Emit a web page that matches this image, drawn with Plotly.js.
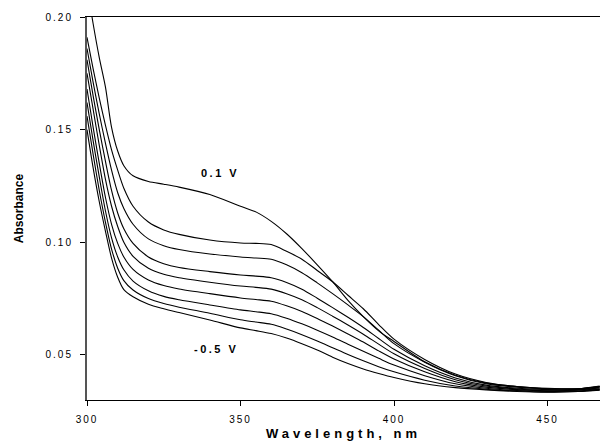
<!DOCTYPE html>
<html>
<head>
<meta charset="utf-8">
<script src="https://cdn.plot.ly/plotly-3.0.1.min.js"></script>
<style>
  html, body { margin: 0; padding: 0; background: #fff; }
  #chart { width: 600px; height: 441px; }
  .xtick text, .ytick text { letter-spacing: 2px !important; }
  .xtitle { letter-spacing: 4px !important; }
  .annotation-text { letter-spacing: 2.5px !important; }
</style>
</head>
<body>
<div id="chart"></div>
<script>
// Wavelength grid (nm)
const wavelength = [300, 302, 304, 306, 308, 310, 312, 315, 320, 325, 330, 340, 350, 355, 360, 365, 370, 375, 380, 385, 390, 395, 400, 410, 420, 430, 440, 450, 460, 467];

// Absorbance spectra, from 0.1 V (top) down to -0.5 V (bottom)
const abs_p010 = [0.214, 0.197, 0.182, 0.1690, 0.1510, 0.1405, 0.1340, 0.1295, 0.1270, 0.1258, 0.1245, 0.1212, 0.1160, 0.1135, 0.1093, 0.1038, 0.0972, 0.0900, 0.0825, 0.0742, 0.0670, 0.0607, 0.0560, 0.0470, 0.0410, 0.0375, 0.0360, 0.0350, 0.0350, 0.0360];
const abs_k1 = [0.191, 0.177, 0.164, 0.152, 0.141, 0.132, 0.124, 0.1160, 0.1090, 0.1055, 0.1035, 0.1010, 0.0997, 0.0995, 0.0990, 0.0960, 0.0925, 0.0875, 0.0825, 0.0765, 0.0705, 0.0635, 0.0570, 0.0480, 0.0415, 0.0378, 0.0360, 0.0352, 0.0350, 0.0360];
const abs_k2 = [0.186, 0.171, 0.157, 0.144, 0.132, 0.122, 0.115, 0.1080, 0.1015, 0.0985, 0.0968, 0.0948, 0.0935, 0.0930, 0.0925, 0.0900, 0.0865, 0.0820, 0.0772, 0.0722, 0.0670, 0.0610, 0.0550, 0.0468, 0.0408, 0.0372, 0.0357, 0.0350, 0.0350, 0.0362];
const abs_k3 = [0.181, 0.165, 0.150, 0.136, 0.123, 0.113, 0.106, 0.0995, 0.0935, 0.0905, 0.0888, 0.0870, 0.0855, 0.0850, 0.0843, 0.0822, 0.0792, 0.0752, 0.0710, 0.0667, 0.0622, 0.0573, 0.0525, 0.0452, 0.0398, 0.0366, 0.0352, 0.0346, 0.0347, 0.0357];
const abs_k4 = [0.175, 0.159, 0.143, 0.128, 0.116, 0.107, 0.1000, 0.0938, 0.0885, 0.0858, 0.0843, 0.0823, 0.0806, 0.0800, 0.0792, 0.0772, 0.0745, 0.0710, 0.0672, 0.0633, 0.0592, 0.0548, 0.0505, 0.0440, 0.0390, 0.0362, 0.0349, 0.0344, 0.0345, 0.0354];
const abs_k5 = [0.168, 0.151, 0.135, 0.120, 0.108, 0.0995, 0.0935, 0.0880, 0.0833, 0.0808, 0.0793, 0.0772, 0.0753, 0.0746, 0.0738, 0.0718, 0.0693, 0.0662, 0.0628, 0.0593, 0.0557, 0.0518, 0.0482, 0.0425, 0.0381, 0.0357, 0.0346, 0.0341, 0.0343, 0.0350];
const abs_k6 = [0.162, 0.145, 0.129, 0.114, 0.102, 0.0935, 0.0878, 0.0828, 0.0785, 0.0760, 0.0745, 0.0722, 0.0700, 0.0692, 0.0683, 0.0663, 0.0638, 0.0610, 0.0580, 0.0548, 0.0516, 0.0485, 0.0455, 0.0408, 0.0372, 0.0352, 0.0342, 0.0338, 0.0340, 0.0347];
const abs_k7 = [0.156, 0.139, 0.123, 0.109, 0.097, 0.0885, 0.0830, 0.0788, 0.0750, 0.0728, 0.0712, 0.0685, 0.0656, 0.0646, 0.0636, 0.0615, 0.0590, 0.0562, 0.0532, 0.0502, 0.0474, 0.0448, 0.0425, 0.0388, 0.0362, 0.0348, 0.0340, 0.0336, 0.0338, 0.0345];
const abs_m050 = [0.150, 0.133, 0.118, 0.105, 0.093, 0.0845, 0.0790, 0.0758, 0.0725, 0.0705, 0.0688, 0.0655, 0.0620, 0.0608, 0.0595, 0.0575, 0.0550, 0.0522, 0.0490, 0.0462, 0.0438, 0.0418, 0.0400, 0.0372, 0.0355, 0.0345, 0.0338, 0.0335, 0.0338, 0.0343];

const seriesList = [abs_p010, abs_k1, abs_k2, abs_k3, abs_k4, abs_k5, abs_k6, abs_k7, abs_m050];

// Tick values / labels
const xTicks = [300, 350, 400, 450];
const yTicks = [0.05, 0.10, 0.15, 0.20];
const yTickText = ['0.05', '0.10', '0.15', '0.20'];

// Annotation labels
const labelTop = '0.1 V';
const labelBottom = '-0.5 V';

const FONT = 'Liberation Sans, Arial, Helvetica, sans-serif';

const traces = seriesList.map(ys => ({
  x: wavelength,
  y: ys,
  type: 'scatter',
  mode: 'lines',
  line: { color: '#000', width: 1.1, shape: 'spline', smoothing: 0.8 },
  hoverinfo: 'skip',
  showlegend: false
}));

const layout = {
  width: 600,
  height: 441,
  margin: { l: 87, r: 0, t: 17, b: 41, pad: 0 },
  paper_bgcolor: '#fff',
  plot_bgcolor: '#fff',
  showlegend: false,
  font: { family: FONT, color: '#000', size: 10 },
  xaxis: {
    range: [300, 467.1],
    tickvals: xTicks,
    ticktext: xTicks.map(String),
    ticks: 'outside',
    ticklen: 5,
    tickwidth: 1,
    tickcolor: '#000',
    showline: true,
    linecolor: '#000',
    linewidth: 1,
    mirror: true,
    showgrid: false,
    zeroline: false,
    tickfont: { family: FONT, size: 10, color: '#000' },
    ticklabelstandoff: 5,
    title: { text: 'Wavelength, nm', font: { family: FONT, size: 13, color: '#000', weight: 'bold' }, standoff: 7 }
  },
  yaxis: {
    range: [0.03, 0.2],
    tickvals: yTicks,
    ticktext: yTickText,
    ticks: 'outside',
    ticklen: 5,
    tickwidth: 1,
    tickcolor: '#000',
    showline: true,
    linecolor: '#555',
    linewidth: 2,
    showgrid: false,
    zeroline: false,
    tickfont: { family: FONT, size: 10, color: '#000' },
    ticklabelstandoff: 5,
    title: { text: 'Absorbance', font: { family: FONT, size: 12, color: '#000', weight: 'bold' }, standoff: 19 }
  },
  annotations: [
    { x: 343.3, y: 0.1308, xref: 'x', yref: 'y', text: labelTop, showarrow: false,
      font: { family: FONT, size: 11, color: '#000', weight: 'bold' } },
    { x: 342.0, y: 0.0527, xref: 'x', yref: 'y', text: labelBottom, showarrow: false,
      font: { family: FONT, size: 11, color: '#000', weight: 'bold' } }
  ]
};

Plotly.newPlot('chart', traces, layout, { staticPlot: true, displayModeBar: false });
</script>
</body>
</html>
